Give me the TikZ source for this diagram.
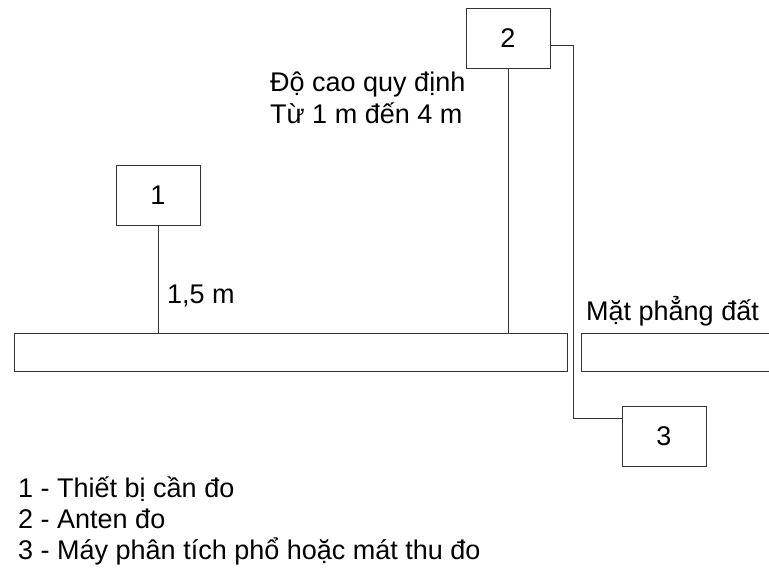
\documentclass[tikz,border=0pt]{standalone}
\usepackage{fontspec}
\setmainfont{Liberation Sans}
\begin{document}
\begin{tikzpicture}[x=1pt,y=-1pt,
  ln/.style={draw=black!80,line width=0.9pt},
  boxnode/.style={ln,rectangle,minimum width=84pt,minimum height=60pt,inner sep=0pt,font=\fontsize{27}{31}\selectfont},
  lbl/.style={inner sep=0pt,anchor=base west,font=\fontsize{27}{31}\selectfont}]
\useasboundingbox (0,0) rectangle (769,578);
% ground plane
\node[ln,rectangle,minimum width=553pt,minimum height=38pt,inner sep=0pt] (gl) at (290.5,352) {};
\draw[ln] (770,333) -- (581,333) -- (581,371) -- (770,371);
% boxes
\node[boxnode] (b1) at (158,195.5) {1};
\node[boxnode] (b2) at (508,38) {2};
\node[boxnode] (b3) at (664,436.5) {3};
% connectors
\coordinate (g1) at (158,333);
\coordinate (g2) at (508,333);
\draw[ln] (b1.south) -- (g1);
\draw[ln] (b2.south) -- (g2);
\draw[ln] ([yshift=-7pt]b2.east) -- ++(23,0) |- ([yshift=18.5pt]b3.west);
% labels
\node[lbl] (t1) at (270,92) {Độ cao quy định};
\node[lbl] (t2) at (270,123) {Từ 1 m đến 4 m};
\node[lbl] (t3) at (167,303) {1,5 m};
\node[lbl] (t4) at (586,320) {Mặt phẳng đất};
\node[lbl] (l1) at (18,497) {1 - Thiết bị cần đo};
\node[lbl] (l2) at (18,528) {2 - Anten đo};
\node[lbl] (l3) at (18,559) {3 - Máy phân tích phổ hoặc mát thu đo};
\end{tikzpicture}
\end{document}
